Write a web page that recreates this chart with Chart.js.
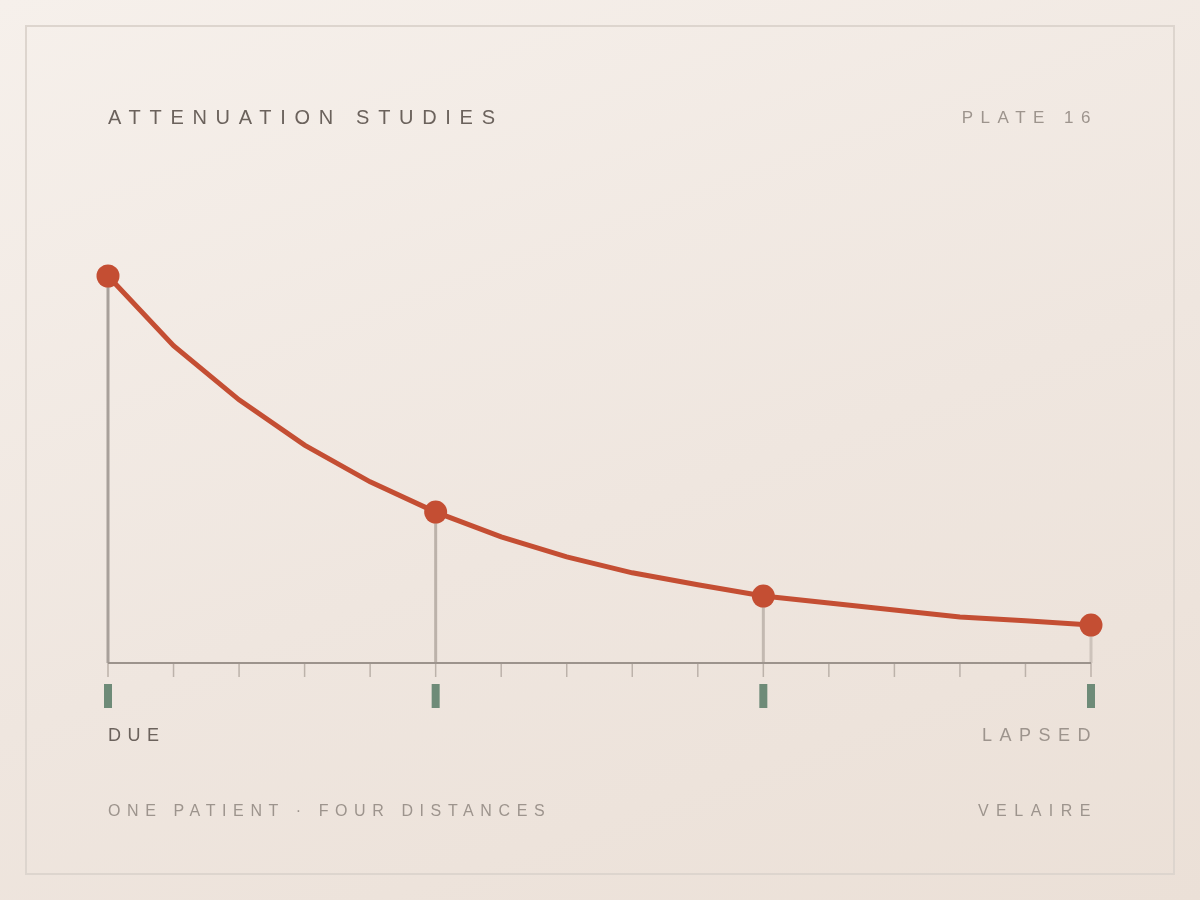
<!DOCTYPE html>
<html>
<head>
<meta charset="utf-8">
<script src="https://cdn.jsdelivr.net/npm/chart.js@4.4.1/dist/chart.umd.min.js"></script>
<style>
  html, body { margin: 0; padding: 0; }
  body {
    width: 1200px; height: 900px; position: relative; overflow: hidden;
    background: linear-gradient(160deg, #f6f0eb 0%, #efe6df 55%, #ebe0d7 100%);
    font-family: "Liberation Sans", Arial, sans-serif;
  }
  .frame {
    position: absolute; left: 25px; top: 25px; width: 1146px; height: 846px;
    border: 2px solid #ddd5ce;
  }
  #wrap { position: absolute; left: 0; top: 0; width: 1200px; height: 900px; }
  .t { position: absolute; white-space: nowrap; line-height: 1; transform: translateY(-50%); }
  .title { left: 108px; top: 117px; font-size: 20px; letter-spacing: 8.7px; color: #6b625c; }
  .plate { right: 102px; top: 117px; font-size: 17px; letter-spacing: 7.5px; color: #9d948d; }
  .due { left: 108px; top: 735px; font-size: 18px; letter-spacing: 6.5px; color: #6b625c; }
  .lapsed { right: 102px; top: 735px; font-size: 18px; letter-spacing: 7.5px; color: #9d948d; }
  .foot { left: 108px; top: 811px; font-size: 16px; letter-spacing: 6.6px; color: #9d948d; }
  .brand { right: 102px; top: 811px; font-size: 16px; letter-spacing: 7.5px; color: #9d948d; }
</style>
</head>
<body>
<div class="frame"></div>
<div id="wrap"><canvas id="myChart" width="1200" height="900"></canvas></div>
<div class="t title">ATTENUATION STUDIES</div>
<div class="t plate">PLATE 16</div>
<div class="t due">DUE</div>
<div class="t lapsed">LAPSED</div>
<div class="t foot">ONE PATIENT · FOUR DISTANCES</div>
<div class="t brand">VELAIRE</div>
<script>
// pasos en x y valor de la curva
const steps = [0, 1, 2, 3, 4, 5, 6, 7, 8, 9, 10, 11, 12, 13, 14, 15];
const values = [100, 82, 68, 56.3, 46.8, 39, 32.6, 27.4, 23.3, 20.2, 17.3, 15.5, 13.7, 11.9, 10.9, 9.8];
// las cuatro distancias marcadas
const marked = [0, 5, 10, 15];
const stemColors = ['#a8a09a', '#bcb2aa', '#c3b9b1', '#cdc3bb'];

// dibuja eje, marcas, tallos y etiquetas verdes
const stemsPlugin = {
  id: 'stems',
  beforeDatasetsDraw(chart) {
    const ctx = chart.ctx;
    const xs = chart.scales.x;
    const ys = chart.scales.y;
    const base = ys.getPixelForValue(0);
    ctx.save();
    // tallos
    marked.forEach((m, i) => {
      const px = xs.getPixelForValue(m);
      const py = ys.getPixelForValue(values[steps.indexOf(m)]);
      ctx.strokeStyle = stemColors[i];
      ctx.lineWidth = 3;
      ctx.beginPath();
      ctx.moveTo(px, py);
      ctx.lineTo(px, base);
      ctx.stroke();
    });
    // marcas pequeñas
    ctx.strokeStyle = '#bcb2aa';
    ctx.lineWidth = 1.5;
    steps.forEach(s => {
      const px = xs.getPixelForValue(s);
      ctx.beginPath();
      ctx.moveTo(px, base);
      ctx.lineTo(px, base + 14);
      ctx.stroke();
    });
    // línea base
    ctx.strokeStyle = '#9c938c';
    ctx.lineWidth = 2;
    ctx.beginPath();
    ctx.moveTo(xs.getPixelForValue(0), base);
    ctx.lineTo(xs.getPixelForValue(15), base);
    ctx.stroke();
    // rectángulos verdes
    ctx.fillStyle = '#6e8b78';
    marked.forEach(m => {
      const px = xs.getPixelForValue(m);
      ctx.fillRect(px - 4, base + 21, 8, 24);
    });
    ctx.restore();
  }
};

let ctx = document.getElementById('myChart').getContext('2d');
let myChart = new Chart(ctx, {
  type: 'line',
  data: {
    datasets: [
      {
        data: steps.map((s, i) => ({ x: s, y: values[i] })),
        borderColor: '#c44e33',
        borderWidth: 5,
        pointRadius: steps.map(s => marked.includes(s) ? 11.5 : 0),
        pointBackgroundColor: '#c44e33',
        pointBorderWidth: 0,
        tension: 0,
        clip: false
      }
    ]
  },
  options: {
    responsive: false,
    animation: false,
    layout: { padding: { left: 108, right: 109, top: 276, bottom: 237 } },
    plugins: { legend: { display: false }, tooltip: { enabled: false } },
    scales: {
      x: { type: 'linear', min: 0, max: 15, display: false },
      y: { min: 0, max: 100, display: false }
    }
  },
  plugins: [stemsPlugin]
});
</script>
</body>
</html>
